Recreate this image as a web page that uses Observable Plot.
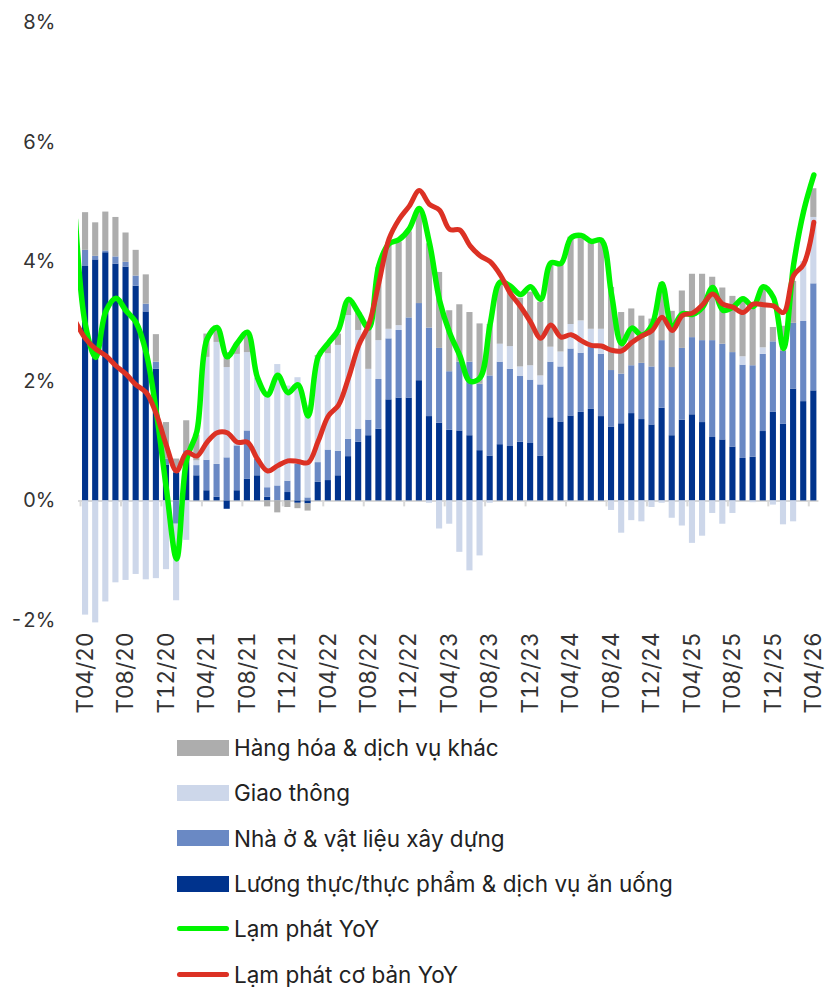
<!DOCTYPE html>
<html><head><meta charset="utf-8">
<script src="https://cdn.jsdelivr.net/npm/d3@7"></script>
<script src="https://cdn.jsdelivr.net/npm/@observablehq/plot@0.6"></script>
<style>
body{margin:0;background:#fff;font-family:Inter,"DejaVu Sans",sans-serif;}
#chart{width:825px;height:725px;}
#legend{width:825px;}
.row{height:45.3px;display:flex;align-items:center;padding-left:177px;font-size:22.5px;color:#222;}
.sw{width:52px;height:16px;margin-right:5px;flex:none}
.ln{width:52px;height:5px;border-radius:3px;margin-right:5px;flex:none}
</style></head><body>
<div id="chart"></div><div id="legend"></div>
<script>
const months = ["T04/20","T05/20","T06/20","T07/20","T08/20","T09/20","T10/20","T11/20","T12/20",
"T01/21","T02/21","T03/21","T04/21","T05/21","T06/21","T07/21","T08/21","T09/21","T10/21","T11/21","T12/21",
"T01/22","T02/22","T03/22","T04/22","T05/22","T06/22","T07/22","T08/22","T09/22","T10/22","T11/22","T12/22",
"T01/23","T02/23","T03/23","T04/23","T05/23","T06/23","T07/23","T08/23","T09/23","T10/23","T11/23","T12/23",
"T01/24","T02/24","T03/24","T04/24","T05/24","T06/24","T07/24","T08/24","T09/24","T10/24","T11/24","T12/24",
"T01/25","T02/25","T03/25","T04/25","T05/25","T06/25","T07/25","T08/25","T09/25","T10/25","T11/25","T12/25",
"T01/26","T02/26","T03/26","T04/26"];

// Đóng góp vào lạm phát (điểm %)
const food = [3.92,4.03,4.15,3.96,3.91,3.59,3.16,2.20,0.60,0.47,0.70,0.42,0.17,0.06,-0.14,0.17,0.36,0.42,0.06,0.00,
0.14,-0.04,-0.05,0.31,0.34,0.42,0.74,0.98,1.09,1.20,1.69,1.72,1.72,2.01,1.41,1.30,1.18,1.17,1.09,0.84,
0.75,0.94,0.91,0.98,0.96,0.75,1.39,1.32,1.42,1.48,1.53,1.41,1.23,1.29,1.46,1.36,1.27,1.55,1.09,1.35,
1.44,1.31,1.06,1.02,0.90,0.71,0.73,1.16,1.48,1.28,1.87,1.66,1.84];
const housing = [0.27,0.06,0.03,0.12,0.08,0.17,0.13,0.12,0.10,-0.39,0.14,0.17,0.51,0.55,0.72,0.75,0.81,0.28,0.16,0.25,
0.19,0.61,0.05,0.33,0.51,0.41,0.29,0.22,0.26,0.83,1.02,1.13,1.34,1.29,1.48,1.25,0.98,1.15,1.23,1.11,
1.34,1.38,1.29,1.10,1.06,1.19,0.93,0.92,1.12,0.99,1.04,1.04,0.95,0.83,0.80,0.94,0.97,1.13,1.14,1.20,
1.29,1.37,1.62,1.60,1.58,1.56,1.53,1.29,1.18,1.22,1.10,1.34,1.79];
const transport = [-1.91,-2.04,-1.69,-1.37,-1.33,-1.23,-1.32,-1.30,-1.15,-1.28,-0.66,0.08,1.72,2.04,1.51,1.53,1.31,1.35,1.58,2.03,
1.59,1.45,1.54,1.76,1.61,1.77,2.07,1.65,0.85,0.65,0.16,0.08,0,0,-0.04,-0.47,-0.39,-0.86,-1.17,-0.92,
-0.04,0.30,0.38,0.16,0.24,0.15,0.25,0.25,0.41,0.54,0.30,0.42,-0.16,-0.54,-0.33,-0.35,-0.11,-0.04,-0.29,-0.42,
-0.71,-0.59,-0.21,-0.39,-0.21,0.14,-0.03,0.11,-0.07,-0.40,-0.35,1.00,1.11];
const other = [0.63,0.56,0.65,0.66,0.49,0.43,0.49,0.46,0.61,0.23,0.50,0.43,0.39,0.25,0.25,0.17,0.34,0.00,-0.10,-0.20,
-0.11,-0.09,-0.12,0.03,0.14,0.19,0.23,0.29,0.70,1.22,1.45,1.40,1.44,1.55,1.41,1.27,1.02,0.96,0.83,1.01,
0.86,1.03,0.92,1.15,1.23,1.23,1.39,1.47,1.46,1.40,1.45,1.51,1.39,1.03,0.95,0.79,0.80,0.97,0.94,0.96,
1.06,1.11,1.06,0.94,0.94,0.97,0.95,1.00,0.24,0.42,0.70,0,0.48];

// Lạm phát YoY (%)
const cpi = [2.93,2.40,3.17,3.39,3.18,2.98,2.47,1.48,0.19,-0.97,0.70,1.16,2.70,2.90,2.41,2.64,2.82,2.06,1.77,2.10,
1.81,1.94,1.42,2.41,2.64,2.86,3.37,3.14,2.89,3.94,4.30,4.37,4.55,4.89,4.31,3.35,2.81,2.43,2.00,2.06,
2.96,3.66,3.59,3.45,3.58,3.37,3.98,3.97,4.40,4.44,4.34,4.36,3.45,2.63,2.89,2.77,2.94,3.63,2.91,3.13,
3.12,3.24,3.57,3.19,3.24,3.38,3.25,3.58,3.40,2.55,3.95,4.85,5.45];
// Lạm phát cơ bản YoY (%)
const core = [2.71,2.54,2.43,2.26,2.12,1.94,1.81,1.45,0.92,0.50,0.81,0.75,0.98,1.14,1.14,0.98,0.98,0.70,0.50,0.59,
0.67,0.66,0.64,1.00,1.42,1.60,2.06,2.60,2.95,3.65,4.38,4.71,4.93,5.19,4.96,4.86,4.54,4.53,4.27,4.10,
4.00,3.78,3.47,3.25,2.99,2.72,2.94,2.74,2.78,2.68,2.60,2.59,2.52,2.51,2.65,2.76,2.85,3.07,2.85,3.10,
3.14,3.28,3.46,3.29,3.24,3.15,3.29,3.28,3.26,3.15,3.77,3.96,4.66];
// tháng trước T04/20 (ngoài khung, bị cắt)
const cpiPrev = 4.7, corePrev = 3.0;

const seriesNames = ["Lương thực/thực phẩm & dịch vụ ăn uống","Nhà ở & vật liệu xây dựng","Giao thông","Hàng hóa & dịch vụ khác"];
const seriesColors = ["#00338d","#6a89c4","#cdd7ea","#adadad"];
const seriesValues = [food, housing, transport, other];
const lineNames = ["Lạm phát YoY","Lạm phát cơ bản YoY"];
const lineColors = ["#00f500","#dc3124"];
const yTicks = [-2,0,2,4,6,8];
const labelIdx = d3.range(0, months.length, 4);
const tickBoundaries = d3.range(0, months.length, 4);

const rows = [];
months.forEach((m, i) => seriesNames.forEach((s, k) => rows.push({i, series: s, value: seriesValues[k][i]})));
const lineRows = [{i: -1, cpi: cpiPrev, core: corePrev}, ...months.map((m, i) => ({i, cpi: cpi[i], core: core[i]}))];

const chart = Plot.plot({
  width: 825, height: 725,
  marginLeft: 78, marginRight: 6.6, marginTop: 22, marginBottom: 105,
  style: {fontFamily: "Inter, 'DejaVu Sans', sans-serif", fontSize: "20px", color: "#333", background: "#fff", overflow: "visible"},
  x: {domain: [-0.2, 73], ticks: labelIdx.map(i => i + 0.5), tickFormat: v => months[Math.round(v - 0.5)],
      tickRotate: -90, tickSize: 0, tickPadding: 12, label: null},
  y: {domain: [-2, 8], ticks: yTicks, tickFormat: d => d + "%", tickSize: 0, tickPadding: 23, label: null},
  color: {domain: seriesNames, range: seriesColors},
  marks: [
    Plot.ruleY([0], {stroke: "#d9d9d9", strokeWidth: 2}),
    Plot.ruleX(tickBoundaries, {x: d => d, y1: 0, y2: -0.1, stroke: "#d9d9d9", strokeWidth: 2}),
    Plot.rectY(rows, {x1: d => d.i, x2: d => d.i + 1, y: "value", fill: "series", insetLeft: 2, insetRight: 2}),
    Plot.line(lineRows, {x: d => d.i + 0.5, y: "cpi", stroke: lineColors[0], strokeWidth: 5.5, curve: "catmull-rom", clip: true, strokeLinejoin: "round"}),
    Plot.line(lineRows, {x: d => d.i + 0.5, y: "core", stroke: lineColors[1], strokeWidth: 5, curve: "catmull-rom", clip: true, strokeLinejoin: "round"})
  ]
});
document.getElementById("chart").appendChild(chart);
d3.select(chart).selectAll('g[aria-label="x-axis tick label"], g[aria-label="x-axis"]').attr("font-size", 22.5);

const legend = document.getElementById("legend");
const legendItems = [
  {name: seriesNames[3], color: seriesColors[3], type: "sw"},
  {name: seriesNames[2], color: seriesColors[2], type: "sw"},
  {name: seriesNames[1], color: seriesColors[1], type: "sw"},
  {name: seriesNames[0], color: seriesColors[0], type: "sw"},
  {name: lineNames[0], color: lineColors[0], type: "ln"},
  {name: lineNames[1], color: lineColors[1], type: "ln"}
];
legendItems.forEach(it => {
  const r = document.createElement("div"); r.className = "row";
  const s = document.createElement("span"); s.className = it.type; s.style.background = it.color;
  const t = document.createElement("span"); t.textContent = it.name;
  r.appendChild(s); r.appendChild(t); legend.appendChild(r);
});
</script>
</body></html>
